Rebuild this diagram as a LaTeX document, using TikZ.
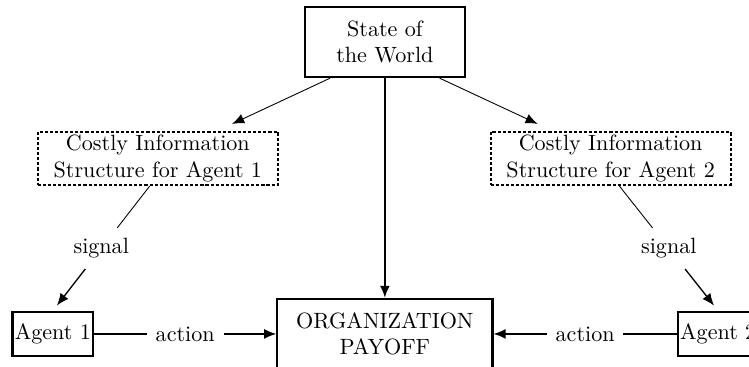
\documentclass[tikz,border=0pt]{standalone}
\usepackage{tikz}
\usetikzlibrary{arrows.meta,positioning,calc}

\begin{document}
\begin{tikzpicture}[on grid, box/.style={draw, line width=1pt, align=center, inner xsep=1pt}, costly/.style={draw, dash pattern=on 1.4pt off 0.9pt, line width=0.9pt, align=center, inner ysep=1.5pt, minimum width=3.82cm, minimum height=0.84cm}, lab/.style={inner xsep=3.8pt, inner ysep=4.6pt}, arr/.style={-{Latex[length=5.5pt, width=4.5pt]}, semithick}]
\useasboundingbox (0,0) rectangle (11.91,-5.835);
\node[box, minimum width=2.54cm, minimum height=1.11cm] (state) at (6.12,-0.67) {State of\\the World};
\node[costly, below left=1.85cm and 3.61cm of state] (ci1) {Costly Information\\Structure for Agent 1};
\node[costly, below right=1.85cm and 3.59cm of state] (ci2) {Costly Information\\Structure for Agent 2};
\node[box, below=4.64cm of state, minimum width=3.42cm, minimum height=1.11cm] (org) {ORGANIZATION\\PAYOFF};
\node[box, left=5.28cm of org, minimum height=0.70cm] (ag1) {Agent 1};
\node[box, right=5.3cm of org, minimum height=0.70cm] (ag2) {Agent 2};
\node[lab] (sig1) at ($([xshift=-0.13cm]ci1.south)!0.5!(ag1.north)$) {signal};
\node[lab] (sig2) at ($([xshift=0.14cm]ci2.south)!0.5!(ag2.north)$) {signal};
\node[lab] (act1) at ($(ag1.east)!0.5!(org.west)$) {action};
\node[lab] (act2) at ($(ag2.west)!0.5!(org.east)$) {action};
% state to the information structures
\draw[arr, thin] ([xshift=-0.87cm]state.south) -- ([shift={(1.18cm,0.11cm)}]ci1.north);
\draw[arr, thin] ([xshift=0.87cm]state.south) -- ([shift={(-1.16cm,0.11cm)}]ci2.north);
\draw[arr, line width=0.9pt] (state) -- (org);
% signals
\draw[thin] ([xshift=-0.13cm]ci1.south) -- (sig1);
\draw[arr, shorten >=3pt] (sig1) -- (ag1.north);
\draw[thin] ([xshift=0.14cm]ci2.south) -- (sig2);
\draw[arr, shorten >=3pt] (sig2) -- (ag2.north);
% actions
\draw[semithick] (ag1) -- (act1);
\draw[arr] (act1) -- (org);
\draw[semithick] (ag2) -- (act2);
\draw[arr] (act2) -- (org);
\end{tikzpicture}
\end{document}
